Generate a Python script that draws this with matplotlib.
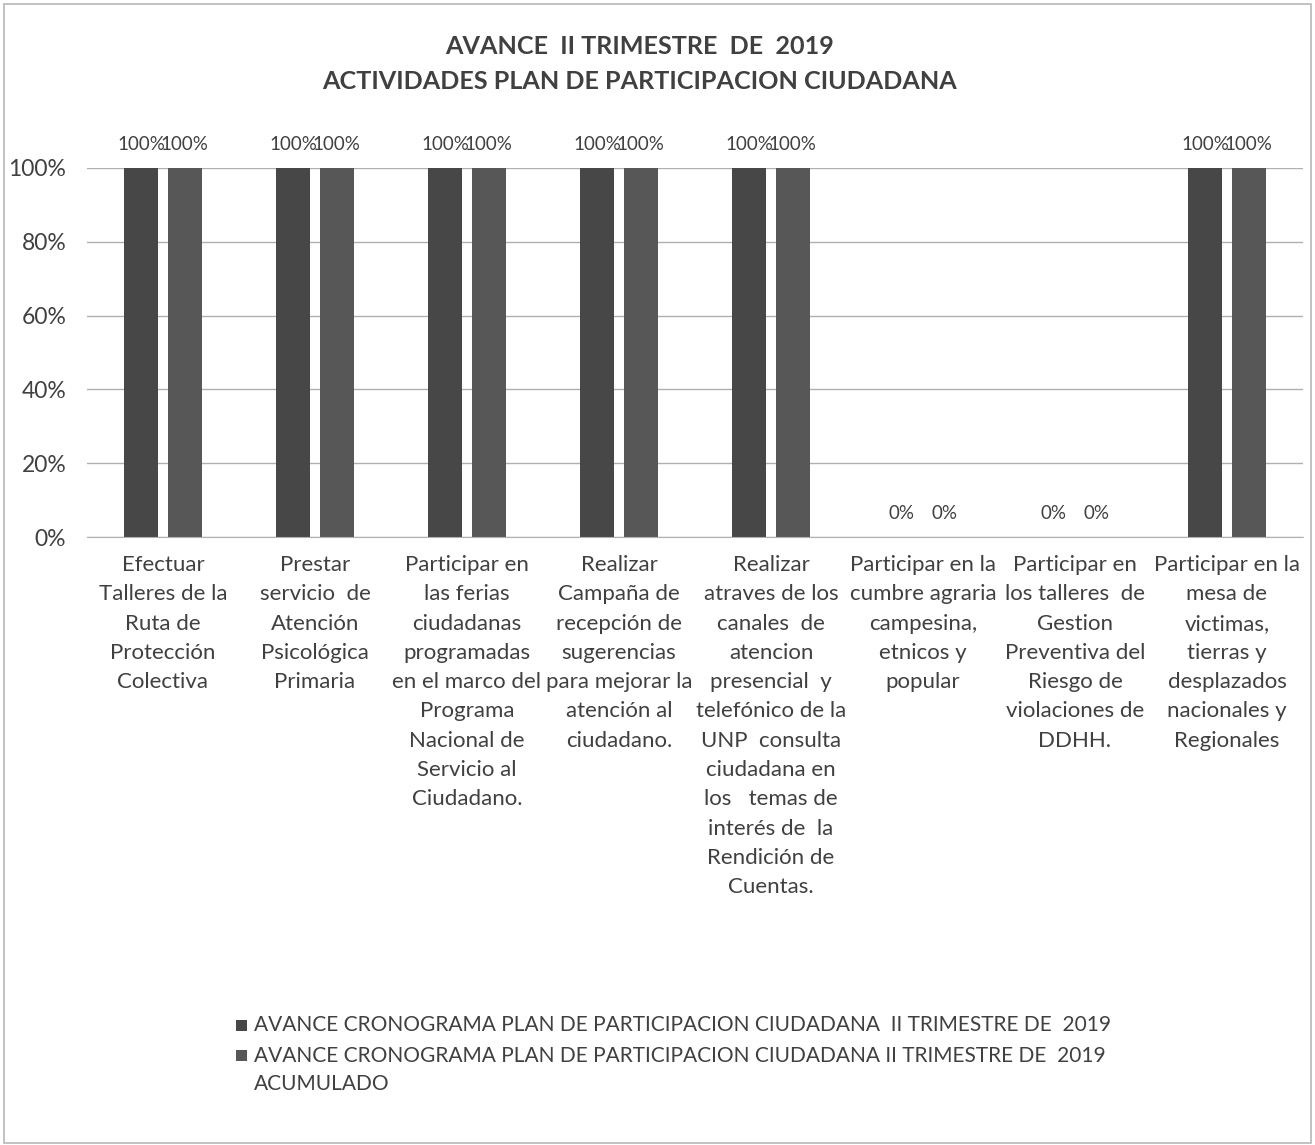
import matplotlib
matplotlib.use('Agg')
import matplotlib.pyplot as plt
from matplotlib.patches import Rectangle
import numpy as np

plt.rcParams['font.family'] = ['Lato', 'DejaVu Sans']

categorias = [
    "Efectuar\nTalleres de la\nRuta de\nProtección\nColectiva",
    "Prestar\nservicio  de\nAtención\nPsicológica\nPrimaria",
    "Participar en\nlas ferias\nciudadanas\nprogramadas\nen el marco del\nPrograma\nNacional de\nServicio al\nCiudadano.",
    "Realizar\nCampaña de\nrecepción de\nsugerencias\npara mejorar la\natención al\nciudadano.",
    "Realizar\natraves de los\ncanales  de\natencion\npresencial  y\ntelefónico de la\nUNP  consulta\nciudadana en\nlos   temas de\ninterés de  la\nRendición de\nCuentas.",
    "Participar en la\ncumbre agraria\ncampesina,\netnicos y\npopular",
    "Participar en\nlos talleres  de\nGestion\nPreventiva del\nRiesgo de\nviolaciones de\nDDHH.",
    "Participar en la\nmesa de\nvictimas,\ntierras y\ndesplazados\nnacionales y\nRegionales",
]
avance_trimestre = [1.0, 1.0, 1.0, 1.0, 1.0, 0.0, 0.0, 1.0]
avance_acumulado = [1.0, 1.0, 1.0, 1.0, 1.0, 0.0, 0.0, 1.0]
serie1 = "AVANCE CRONOGRAMA PLAN DE PARTICIPACION CIUDADANA  II TRIMESTRE DE  2019"
serie2 = "AVANCE CRONOGRAMA PLAN DE PARTICIPACION CIUDADANA II TRIMESTRE DE  2019\nACUMULADO"
titulo = "AVANCE  II TRIMESTRE  DE  2019\nACTIVIDADES PLAN DE PARTICIPACION CIUDADANA"

W, H = 1315, 1145
fig = plt.figure(figsize=(W / 100, H / 100), dpi=100)
fig.patch.set_facecolor('white')

# outer frame
fig.add_artist(Rectangle((4 / W, 2 / H), (W - 8) / W, (H - 6) / H, transform=fig.transFigure,
                         fill=False, edgecolor='#b8b8b8', linewidth=1.2))

ax = fig.add_axes([87 / W, 1 - 537 / H, (1303 - 87) / W, (537 - 168) / H])
x = np.arange(len(categorias))
w = 0.224
off = 0.143
c1, c2 = '#474747', '#575757'
txt = '#404040'
ax.bar(x - off, avance_trimestre, w, color=c1)
ax.bar(x + off, avance_acumulado, w, color=c2)

for xi, v in zip(x - off, avance_trimestre):
    ax.text(xi, v + 0.04, f"{v:.0%}", ha='center', va='bottom', fontsize=13.5, color=txt)
for xi, v in zip(x + off, avance_acumulado):
    ax.text(xi, v + 0.04, f"{v:.0%}", ha='center', va='bottom', fontsize=13.5, color=txt)

ax.set_xlim(-0.5, len(categorias) - 0.5)
ax.set_ylim(0, 1.0)
ax.set_yticks(np.arange(0, 1.01, 0.2))
ax.set_yticklabels([f"{int(t * 100)}%" for t in np.arange(0, 1.01, 0.2)], fontsize=16.5, color=txt)
ax.yaxis.grid(True, color='#b0b0b0', linewidth=1)
ax.set_axisbelow(True)
for s in ['top', 'right', 'left']:
    ax.spines[s].set_visible(False)
ax.spines['bottom'].set_color('#b0b0b0')
ax.tick_params(axis='y', length=0, pad=15)
ax.tick_params(axis='x', length=0, pad=13)
ax.set_xticks(x)
ax.set_xticklabels(categorias, fontsize=16, color=txt, linespacing=1.58, va='top')

fig.text(640 / W, 1 - 64 / H, titulo, ha='center', va='center', fontsize=18.1, fontweight='bold',
         color=txt, linespacing=1.58)

# legend
fig.add_artist(Rectangle((236 / W, 1 - 1031 / H), 11 / W, 11 / H, transform=fig.transFigure,
                         facecolor=c1, edgecolor='none'))
fig.text(254 / W, 1 - 1025 / H, serie1, ha='left', va='center', fontsize=15, color=txt)
fig.add_artist(Rectangle((236 / W, 1 - 1061 / H), 11 / W, 11 / H, transform=fig.transFigure,
                         facecolor=c2, edgecolor='none'))
fig.text(254 / W, 1 - 1070 / H, serie2, ha='left', va='center', fontsize=15, color=txt,
         linespacing=1.5)

fig.savefig('out.png', dpi=100)
